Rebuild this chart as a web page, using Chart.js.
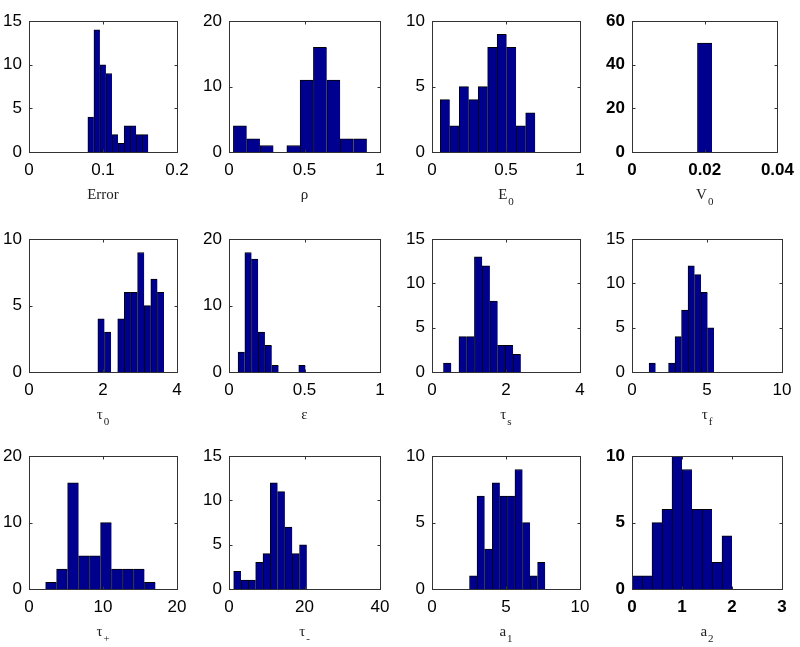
<!DOCTYPE html>
<html>
<head>
<meta charset="utf-8">
<script src="https://cdn.jsdelivr.net/npm/chart.js@4.4.0/dist/chart.umd.min.js"></script>
<style>
  html, body { margin: 0; padding: 0; background: #fff; }
  #page { position: relative; width: 800px; height: 647px; overflow: hidden; }
  .cell { position: absolute; }
</style>
</head>
<body>
<div id="page"></div>
<script>
// histogram bin centres + counts (50 runs per parameter)
const errorBins = [0.0836, 0.0918, 0.0999, 0.1081, 0.1162, 0.1244, 0.1326, 0.1407, 0.1489, 0.1570];
const errorCounts = [4, 14, 10, 9, 2, 1, 3, 3, 2, 2];

const rhoBins = [0.073, 0.161, 0.250, 0.338, 0.427, 0.515, 0.603, 0.692, 0.780, 0.869];
const rhoCounts = [4, 2, 1, 0, 1, 11, 16, 11, 2, 2];

const e0Bins = [0.088, 0.152, 0.216, 0.280, 0.344, 0.408, 0.472, 0.536, 0.601, 0.665];
const e0Counts = [4, 2, 5, 4, 5, 8, 9, 8, 2, 3];

const v0Bins = [0.016, 0.020, 0.024];
const v0Counts = [0, 50, 0];

const tau0Bins = [1.950, 2.129, 2.308, 2.487, 2.666, 2.845, 3.024, 3.203, 3.381, 3.560];
const tau0Counts = [4, 3, 0, 4, 6, 6, 9, 5, 7, 6];

const epsBins = [0.082, 0.127, 0.171, 0.216, 0.261, 0.306, 0.350, 0.395, 0.440, 0.484];
const epsCounts = [3, 18, 17, 6, 4, 1, 0, 0, 0, 1];

const tauSBins = [0.415, 0.624, 0.833, 1.042, 1.251, 1.460, 1.669, 1.878, 2.087, 2.296];
const tauSCounts = [1, 0, 4, 4, 13, 12, 8, 3, 3, 2];

const tauFBins = [1.355, 1.788, 2.221, 2.654, 3.087, 3.520, 3.953, 4.386, 4.819, 5.252];
const tauFCounts = [1, 0, 0, 1, 4, 7, 12, 11, 9, 5];

const tauPlusBins = [2.99, 4.47, 5.96, 7.44, 8.92, 10.41, 11.89, 13.37, 14.86, 16.34];
const tauPlusCounts = [1, 3, 16, 5, 5, 10, 3, 3, 3, 1];

const tauMinusBins = [2.21, 4.15, 6.09, 8.03, 9.97, 11.90, 13.84, 15.78, 17.72, 19.65];
const tauMinusCounts = [2, 1, 1, 3, 4, 12, 11, 7, 4, 5];

const a1Bins = [2.79, 3.30, 3.81, 4.33, 4.84, 5.35, 5.86, 6.37, 6.88, 7.39];
const a1Counts = [1, 7, 3, 8, 7, 7, 9, 5, 1, 2];

const a2Bins = [0.10, 0.30, 0.50, 0.70, 0.90, 1.10, 1.30, 1.50, 1.70, 1.90];
const a2Counts = [1, 1, 5, 6, 10, 9, 6, 6, 2, 4];

// panel list, row by row
const panels = [
  { name: 'Error', sub: '',  bins: errorBins, counts: errorCounts, xTicks: [0, 0.1, 0.2], yTicks: [0, 5, 10, 15] },
  { name: 'ρ',     sub: '',  bins: rhoBins, counts: rhoCounts, xTicks: [0, 0.5, 1], yTicks: [0, 10, 20] },
  { name: 'E',     sub: '0', bins: e0Bins, counts: e0Counts, xTicks: [0, 0.5, 1], yTicks: [0, 5, 10] },
  { name: 'V',     sub: '0', bins: v0Bins, counts: v0Counts, xTicks: [0, 0.02, 0.04], yTicks: [0, 20, 40, 60], bold: true },
  { name: 'τ',     sub: '0', bins: tau0Bins, counts: tau0Counts, xTicks: [0, 2, 4], yTicks: [0, 5, 10] },
  { name: 'ε',     sub: '',  bins: epsBins, counts: epsCounts, xTicks: [0, 0.5, 1], yTicks: [0, 10, 20] },
  { name: 'τ',     sub: 's', bins: tauSBins, counts: tauSCounts, xTicks: [0, 2, 4], yTicks: [0, 5, 10, 15] },
  { name: 'τ',     sub: 'f', bins: tauFBins, counts: tauFCounts, xTicks: [0, 5, 10], yTicks: [0, 5, 10, 15] },
  { name: 'τ',     sub: '+', bins: tauPlusBins, counts: tauPlusCounts, xTicks: [0, 10, 20], yTicks: [0, 10, 20] },
  { name: 'τ',     sub: '-', bins: tauMinusBins, counts: tauMinusCounts, xTicks: [0, 20, 40], yTicks: [0, 5, 10, 15] },
  { name: 'a',     sub: '1', bins: a1Bins, counts: a1Counts, xTicks: [0, 5, 10], yTicks: [0, 5, 10] },
  { name: 'a',     sub: '2', bins: a2Bins, counts: a2Counts, xTicks: [0, 1, 2, 3], yTicks: [0, 5, 10], bold: true }
];

// plot box edges in page pixels
const colLeft = [29, 229, 432, 632];
const colRight = [177, 380, 580, 782];
const rowTop = [14, 232, 449];
const rowBottom = [152, 372, 589];

const Y_AXIS_W = 29, X_AXIS_H = 60, PAD_TOP = 10, PAD_RIGHT = 20;

// matlab style: full box with inward ticks, x label with subscript
const boxPlugin = {
  id: 'matlabBox',
  afterDraw(chart, args, opts) {
    const { ctx, chartArea: a } = chart;
    const xs = chart.scales.x, ys = chart.scales.y;
    const l = Math.round(a.left) + 0.5, r = Math.round(a.right) + 0.5;
    const t = Math.round(a.top) + 0.5, b = Math.round(a.bottom) + 0.5;
    ctx.save();
    ctx.strokeStyle = '#333';
    ctx.lineWidth = 1;
    ctx.strokeRect(l, t, r - l, b - t);
    const tl = 3;
    ctx.beginPath();
    xs.ticks.forEach(tk => {
      const px = Math.round(xs.getPixelForValue(tk.value)) + 0.5;
      ctx.moveTo(px, b); ctx.lineTo(px, b - tl);
      ctx.moveTo(px, t); ctx.lineTo(px, t + tl);
    });
    ys.ticks.forEach(tk => {
      const py = Math.round(ys.getPixelForValue(tk.value)) + 0.5;
      ctx.moveTo(l, py); ctx.lineTo(l + tl, py);
      ctx.moveTo(r, py); ctx.lineTo(r - tl, py);
    });
    ctx.stroke();

    // axis label
    const cx = (a.left + a.right) / 2;
    const cy = a.bottom + 43;
    ctx.fillStyle = '#222';
    ctx.textBaseline = 'middle';
    ctx.textAlign = 'left';
    ctx.font = '15px "Liberation Serif", "DejaVu Serif", serif';
    const wBase = ctx.measureText(opts.name).width;
    ctx.font = '11px "Liberation Serif", "DejaVu Serif", serif';
    const wSub = opts.sub ? ctx.measureText(opts.sub).width + 1 : 0;
    const x0 = cx - (wBase + wSub) / 2;
    ctx.font = '15px "Liberation Serif", "DejaVu Serif", serif';
    ctx.fillText(opts.name, x0, cy);
    if (opts.sub) {
      ctx.font = '11px "Liberation Serif", "DejaVu Serif", serif';
      ctx.fillText(opts.sub, x0 + wBase + 1, cy + 7);
    }
    ctx.restore();
  }
};

const page = document.getElementById('page');

panels.forEach((p, i) => {
  const col = i % 4, row = Math.floor(i / 4);
  const boxW = colRight[col] - colLeft[col];
  const boxH = rowBottom[row] - rowTop[row];
  const w = boxW + Y_AXIS_W + PAD_RIGHT;
  const h = boxH + PAD_TOP + X_AXIS_H;

  const cell = document.createElement('div');
  cell.className = 'cell';
  cell.style.left = (colLeft[col] - Y_AXIS_W) + 'px';
  cell.style.top = (rowTop[row] - PAD_TOP) + 'px';
  cell.style.width = w + 'px';
  cell.style.height = h + 'px';
  const canvas = document.createElement('canvas');
  canvas.width = w;
  canvas.height = h;
  cell.appendChild(canvas);
  page.appendChild(cell);

  const tickFont = { family: '"Liberation Sans", Arial, sans-serif', size: 17, weight: p.bold ? 'bold' : 'normal' };
  const xMax = p.xTicks[p.xTicks.length - 1];
  const yMax = p.yTicks[p.yTicks.length - 1];

  new Chart(canvas, {
    type: 'bar',
    data: {
      datasets: [{
        data: p.bins.map((b, k) => ({ x: b, y: p.counts[k] })),
        backgroundColor: '#00008f',
        borderColor: '#000000',
        borderWidth: { top: 1, left: 1, right: 0, bottom: 0 },
        borderSkipped: false,
        barPercentage: 1,
        categoryPercentage: 1
      }]
    },
    options: {
      responsive: false,
      animation: false,
      devicePixelRatio: 1,
      layout: { padding: { top: PAD_TOP, right: PAD_RIGHT, left: 0, bottom: 0 } },
      plugins: {
        legend: { display: false },
        tooltip: { enabled: false },
        matlabBox: { name: p.name, sub: p.sub }
      },
      scales: {
        x: {
          type: 'linear',
          min: 0,
          max: xMax,
          offset: false,
          afterBuildTicks: s => { s.ticks = p.xTicks.map(v => ({ value: v })); },
          afterFit: s => { s.height = X_AXIS_H; },
          grid: { display: false, drawTicks: false, offset: false },
          border: { display: false },
          ticks: { padding: 8, maxRotation: 0, autoSkip: false, color: '#000', font: tickFont, callback: v => String(v) }
        },
        y: {
          min: 0,
          max: yMax,
          afterBuildTicks: s => { s.ticks = p.yTicks.map(v => ({ value: v })); },
          afterFit: s => { s.width = Y_AXIS_W; },
          grid: { display: false, drawTicks: false },
          border: { display: false },
          ticks: { padding: 7, autoSkip: false, color: '#000', font: tickFont, callback: v => String(v) }
        }
      }
    },
    plugins: [boxPlugin]
  });
});
</script>
</body>
</html>
